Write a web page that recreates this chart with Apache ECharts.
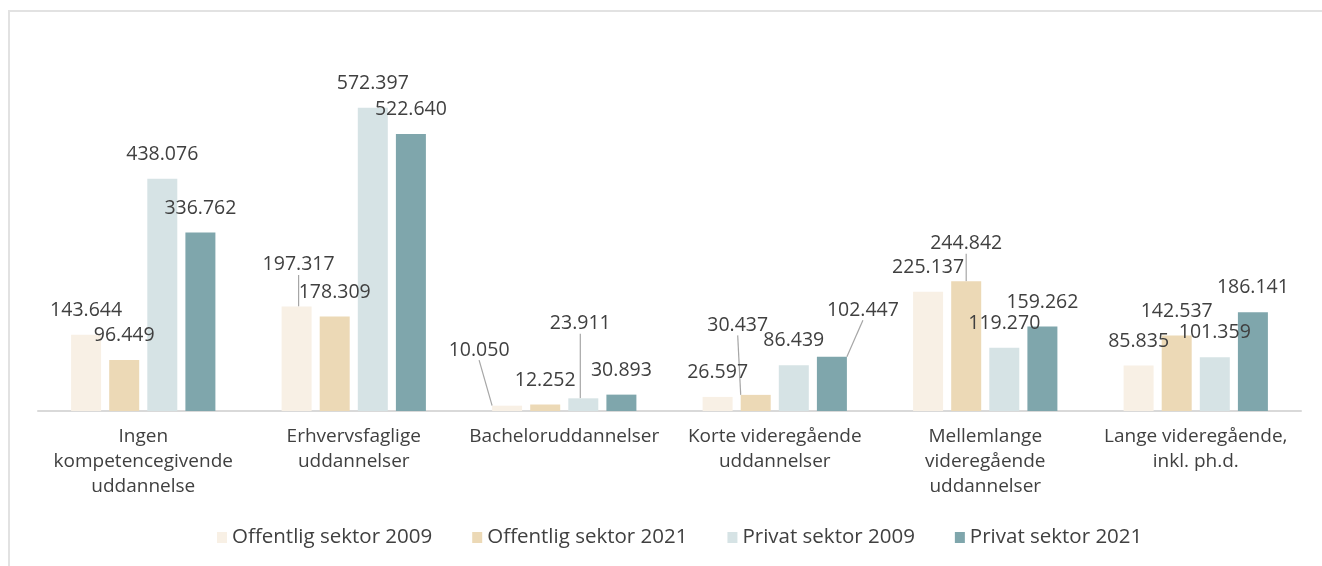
<!DOCTYPE html>
<html>
<head>
<meta charset="utf-8">
<script src="https://cdn.jsdelivr.net/npm/echarts@6/dist/echarts.min.js"></script>
<style>
  html, body { margin: 0; padding: 0; background: #fff; }
  #frame { position: absolute; left: 8px; top: 10px; width: 1330px; height: 570px;
           border-top: 2px solid #e2e2e2; border-left: 2px solid #e2e2e2; }
  #chart { position: absolute; left: 0; top: 0; width: 1322px; height: 566px; }
</style>
</head>
<body>
<div id="frame"></div>
<div id="chart"></div>
<script>
// categories (x axis)
const categories = [
  'Ingen\nkompetencegivende\nuddannelse',
  'Erhvervsfaglige\nuddannelser',
  'Bacheloruddannelser',
  'Korte videregående\nuddannelser',
  'Mellemlange\nvideregående\nuddannelser',
  'Lange videregående,\ninkl. ph.d.'
];

// series names
const seriesNames = ['Offentlig sektor 2009', 'Offentlig sektor 2021', 'Privat sektor 2009', 'Privat sektor 2021'];

// values
const offentlig2009 = [143644, 197317, 10050, 26597, 225137, 85835];
const offentlig2021 = [96449, 178309, 12252, 30437, 244842, 142537];
const privat2009 = [438076, 572397, 23911, 86439, 119270, 101359];
const privat2021 = [336762, 522640, 30893, 102447, 159262, 186141];

const colors = ['#f8f0e5', '#ecd9b6', '#d6e3e5', '#7fa6ac'];
const textColor = '#404040';
const fontFamily = '"Open Sans", "Noto Sans", sans-serif';

// labels moved off the bar (series index - data index) -> [dx, dy]
const labelMoves = {
  '0-1': [2, -17],
  '0-2': [-28, -31],
  '2-2': [-3, -50],
  '1-3': [-18, -45],
  '3-3': [31, -22],
  '1-4': [0, -13]
};

// 143644 -> "143.644"
const fmt = (v) => String(v).replace(/\B(?=(\d{3})+(?!\d))/g, '.');

const chart = echarts.init(document.getElementById('chart'));

const allValues = [offentlig2009, offentlig2021, privat2009, privat2021];

chart.setOption({
  animation: false,
  textStyle: { fontFamily: fontFamily },
  grid: { left: 38, right: 21, top: 40, bottom: 155 },
  legend: {
    bottom: 13,
    left: 212,
    itemWidth: 10,
    itemHeight: 11,
    itemGap: 40,
    icon: 'rect',
    textStyle: { color: textColor, fontSize: 20.5, fontFamily: fontFamily },
    data: seriesNames
  },
  xAxis: {
    type: 'category',
    data: categories,
    axisLine: { lineStyle: { color: '#d9d9d9', width: 2 } },
    axisTick: { show: false },
    axisLabel: {
      color: textColor,
      fontSize: 19,
      lineHeight: 25,
      margin: 13,
      interval: 0
    }
  },
  yAxis: {
    type: 'value',
    min: 0,
    max: 700000,
    show: false,
    splitLine: { show: false }
  },
  series: allValues.map((vals, i) => ({
    name: seriesNames[i],
    type: 'bar',
    barWidth: 30,
    barGap: '27%',
    itemStyle: { color: colors[i] },
    // only the moved labels get a leader line
    data: vals.map((v, j) => labelMoves[i + '-' + j]
      ? { value: v, labelLine: { show: true } }
      : v),
    label: {
      show: true,
      position: 'top',
      distance: 15,
      color: textColor,
      fontSize: 19.5,
      lineHeight: 19,
      formatter: (p) => fmt(p.value)
    },
    labelLine: {
      show: false,
      lineStyle: { color: '#a6a6a6', width: 1.2 }
    },
    labelLayout: (p) => {
      const m = labelMoves[i + '-' + p.dataIndex];
      return m ? { dx: m[0], dy: m[1] } : {};
    }
  }))
});
</script>
</body>
</html>
